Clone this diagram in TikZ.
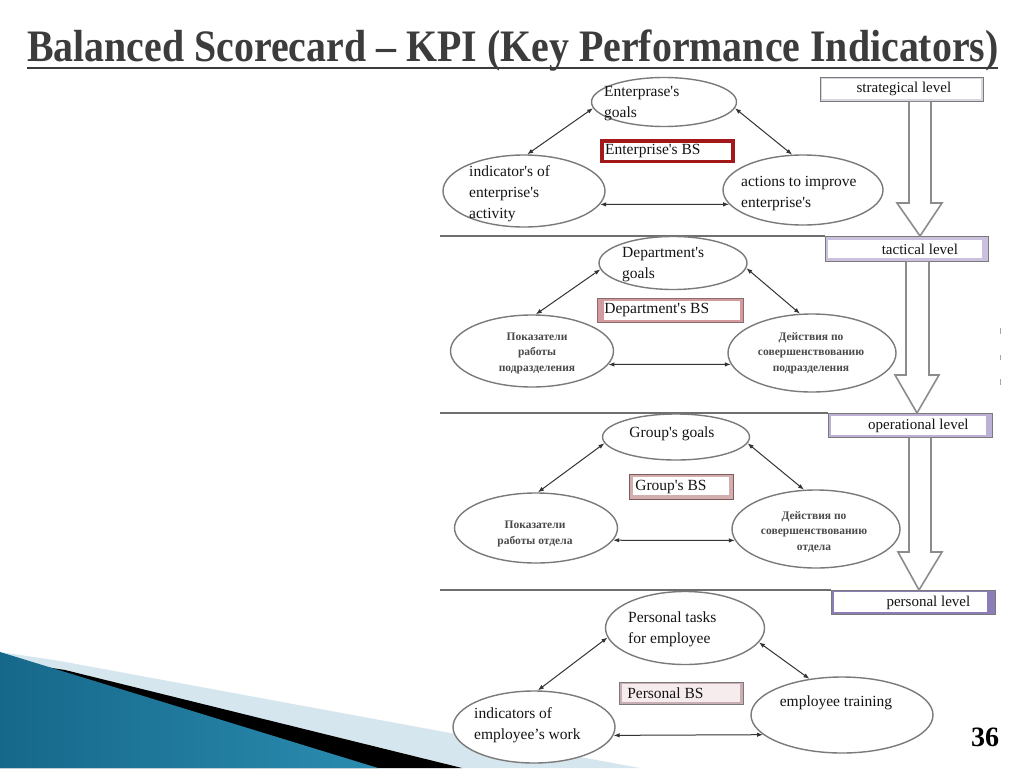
\documentclass[tikz,border=0pt]{standalone}
\usepackage{fontspec}
\setmainfont{Liberation Serif}
\newfontfamily\pf{Liberation Serif}
\newfontfamily\titlefont[FakeStretch=0.886]{Liberation Serif}
\usetikzlibrary{shapes.geometric,arrows.meta,calc}
\definecolor{titlegray}{HTML}{3C3C3C}
\definecolor{ellgray}{HTML}{7A7A7A}
\definecolor{arrgray}{HTML}{333333}
\definecolor{sepgray}{HTML}{6F6F6F}
\definecolor{holgray}{HTML}{8C8C8C}
\definecolor{txt}{HTML}{141414}
\definecolor{cyrgray}{HTML}{4A4A4A}
\definecolor{lvgray}{HTML}{7A7A7A}
\definecolor{lvA}{HTML}{D9D6E2}
\definecolor{lvB}{HTML}{CBC1DF}
\definecolor{lvC}{HTML}{BCB0D6}
\definecolor{lvD}{HTML}{8D7DB6}
\definecolor{bsred}{HTML}{A31818}
\definecolor{bsB}{HTML}{D39B9E}
\definecolor{bsBd}{HTML}{8B6B6B}
\definecolor{bsC}{HTML}{D4AEAE}
\definecolor{bsCd}{HTML}{7A5C5C}
\definecolor{bsD}{HTML}{C9AFB3}
\definecolor{bsDin}{HTML}{F6ECEE}
\definecolor{lightband}{HTML}{D5E6EE}
\definecolor{decdark}{HTML}{16688A}
\definecolor{decmid}{HTML}{57B4D5}
\definecolor{decright}{HTML}{2A8CB0}
\tikzset{
  ell/.style={ellipse, draw=ellgray, line width=1.4pt, fill=white, inner sep=0pt},
  lbl/.style={inner sep=0pt, text=txt, font=\pf\fontsize{15.5}{21}\selectfont},
  cyr/.style={inner sep=0pt, text=cyrgray, align=center, font=\pf\bfseries\fontsize{11.5}{15.5}\selectfont},
  dbl/.style={{Latex[length=6pt,width=4.5pt]}-{Latex[length=6pt,width=4.5pt]}, draw=arrgray, line width=1pt},
  sepline/.style={draw=sepgray, line width=2pt},
  hollow/.style={draw=holgray, line width=1.6pt, fill=white, line join=miter},
  inset/.style n args={5}{path picture={\fill[#5] ($(path picture bounding box.south west)+(#1pt,#2pt)$) rectangle ($(path picture bounding box.north east)-(#3pt,#4pt)$);}},
  lvlbox/.style={rectangle, draw=lvgray, line width=0.8pt, anchor=north west, inner sep=0pt, minimum height=24pt, text=txt, font=\pf\fontsize{15}{18}\selectfont},
  bsbox/.style={rectangle, anchor=north west, inner xsep=0pt, inner ysep=0pt, text=txt, font=\pf\fontsize{15.5}{18}\selectfont},
}
\begin{document}
\begin{tikzpicture}[x=1pt,y=-1pt]
\useasboundingbox (0,0) rectangle (1024,768);
\fill[white] (0,0) rectangle (1024,768);

% bottom-left decoration
\fill[lightband] (0,652) -- (60,661) -- (640,768) -- (0,768) -- cycle;
\fill[black] (0,660) -- (65,670) -- (462,768) -- (0,768) -- cycle;
\shade[left color=decdark, middle color=decmid, right color=decright] (0,652) -- (378,768) -- (0,768) -- cycle;

% title
\node[anchor=base west, inner sep=0pt, text=titlegray, font=\titlefont\bfseries\fontsize{45}{50}\selectfont] (title) at (27,62) {Balanced Scorecard – KPI (Key Performance Indicators)};
\coordinate (ulA) at (27,68);
\coordinate (ulB) at (998,68);
\draw[titlegray, line width=2.5pt] (ulA) -- (ulB);

% level boxes
\node[lvlbox, fill=lvA, minimum width=163pt, inset={2}{2}{2}{2}{white}] (L1) at (820,77) {\hspace*{4pt}strategical level};
\node[lvlbox, fill=lvB, minimum width=163pt, minimum height=25pt, inset={3}{3}{6}{4}{white}] (L2) at (825,236) {\hspace*{26pt}tactical level};
\node[lvlbox, fill=lvC, minimum width=164pt, inset={3}{2}{6}{3}{white}] (L3) at (828,413) {\hspace*{16pt}operational level};
\node[lvlbox, fill=lvD, minimum width=164pt, inset={3}{2}{8}{2}{white}] (L4) at (831,590) {\hspace*{30pt}personal level};

% separators
\coordinate (sA) at (440,236);
\coordinate (sB) at (440,413);
\coordinate (sC) at (440,590);
\draw[sepline] (sA) -- (L2.north west);
\draw[sepline] (sB) -- (L3.north west);
\draw[sepline] (sC) -- (L4.north west);

% hollow arrows between levels
\path[hollow] let \p1=(L1.south), \p2=(L2.north) in
  (909pt,\y1) -- (909pt,-203pt) -- (897pt,-203pt) -- (920pt,\y2) -- (942pt,-203pt) -- (931pt,-203pt) -- (931pt,\y1);
\path[hollow] let \p1=(L2.south), \p2=(L3.north) in
  (906pt,\y1) -- (906pt,-375pt) -- (895pt,-375pt) -- (917pt,\y2) -- (939pt,-375pt) -- (929pt,-375pt) -- (929pt,\y1);
\path[hollow] let \p1=(L3.south), \p2=(L4.north) in
  (909pt,\y1) -- (909pt,-552pt) -- (898pt,-552pt) -- (919pt,\y2) -- (942pt,-552pt) -- (931pt,-552pt) -- (931pt,\y1);

% ---------- strategical level ----------
\node[ell, minimum width=145pt, minimum height=49pt] (E1g) at (664,102) {};
\node[ell, minimum width=162pt, minimum height=72pt] (E1l) at (524,191) {};
\node[ell, minimum width=160pt, minimum height=70pt] (E1r) at (803,190) {};
\node[lbl, anchor=west, align=left] (E1gt) at (604,104) {Enterprase's\\goals};
\node[lbl, anchor=west, align=left] (E1lt) at (469,194) {indicator's of\\enterprise's\\activity};
\node[lbl, anchor=west, align=left] (E1rt) at (741,194) {actions to improve\\enterprise's};
\node[bsbox, fill=bsred, minimum width=135pt, minimum height=24pt, inset={3.5}{3.5}{4}{3.5}{white}] (E1bs) at (600,139) {\makebox[135pt][l]{\hspace*{5pt}Enterprise's BS}};
\draw[dbl] (E1g.185) -- (E1l.85);
\draw[dbl] (E1g.355) -- (E1r.107);
\draw[dbl] (E1l.350) -- (E1r.191);

% ---------- tactical level ----------
\node[ell, minimum width=148pt, minimum height=53pt] (E2g) at (673,263) {};
\node[ell, minimum width=163pt, minimum height=72pt] (E2l) at (532,351) {};
\node[ell, minimum width=168pt, minimum height=78pt] (E2r) at (812,353) {};
\node[lbl, anchor=west, align=left] (E2gt) at (622,265) {Department's\\goals};
\node[cyr] (E2lt) at (537,353) {Показатели\\работы\\подразделения};
\node[cyr] (E2rt) at (811,353) {Действия по\\совершенствованию\\подразделения};
\node[bsbox, fill=bsB, draw=bsBd, line width=0.6pt, minimum width=146pt, minimum height=24pt, inset={7}{2}{3}{3}{white}] (E2bs) at (597,298) {\makebox[146pt][l]{\hspace*{7pt}Department's BS}};
\draw[dbl] (E2g.185) -- (E2l.84);
\draw[dbl] (E2g.356) -- (E2r.107);
\draw[dbl] (E2l.350) -- (E2r.188);

% ---------- operational level ----------
\node[ell, minimum width=147pt, minimum height=46pt] (E3g) at (676,437) {};
\node[ell, minimum width=163pt, minimum height=70pt] (E3l) at (536,528) {};
\node[ell, minimum width=168pt, minimum height=78pt] (E3r) at (816,529) {};
\node[lbl] (E3gt) at (672,434) {Group's goals};
\node[cyr] (E3lt) at (535,534) {Показатели\\работы отдела};
\node[cyr] (E3rt) at (814,532) {Действия по\\совершенствованию\\отдела};
\node[bsbox, fill=bsC, draw=bsCd, line width=0.6pt, minimum width=104pt, minimum height=25pt, inset={4}{4}{4}{3}{white}] (E3bs) at (629,474) {\makebox[104pt][l]{\hspace*{6pt}Group's BS}};
\draw[dbl] (E3g.185) -- (E3l.87);
\draw[dbl] (E3g.355) -- (E3r.107);
\draw[dbl] (E3l.351) -- (E3r.188);

% ---------- personal level ----------
\node[ell, minimum width=159pt, minimum height=73pt] (E4g) at (685,628) {};
\node[ell, minimum width=162pt, minimum height=72pt] (E4l) at (534,727) {};
\node[ell, minimum width=182pt, minimum height=76pt] (E4r) at (842,715) {};
\node[lbl, anchor=west, align=left] (E4gt) at (628,629) {Personal tasks\\for employee};
\node[lbl, anchor=west, align=left] (E4lt) at (474,725) {indicators of\\employee’s work};
\node[lbl] (E4rt) at (836,703) {employee training};
\node[bsbox, fill=bsD, draw=lvgray, line width=0.5pt, minimum width=124pt, minimum height=22pt, inset={3}{2}{3}{2}{bsDin}] (E4bs) at (619,682) {\makebox[124pt][l]{\hspace*{8pt}Personal BS}};
\draw[dbl] (E4g.187) -- (E4l.84);
\draw[dbl] (E4g.349) -- (E4r.132);
\draw[dbl] (E4l.354) -- (E4r.194);

% right-edge marks
\draw[gray!70, line width=1pt] (1000,328) -- (1000,334);
\draw[gray!70, line width=1pt] (1000,355) -- (1000,360);
\draw[gray!70, line width=1pt] (1000,379) -- (1000,385);

% page number
\node[inner sep=0pt, font=\pf\bfseries\fontsize{28}{30}\selectfont] (pnum) at (985,737) {36};
\end{tikzpicture}
\end{document}
